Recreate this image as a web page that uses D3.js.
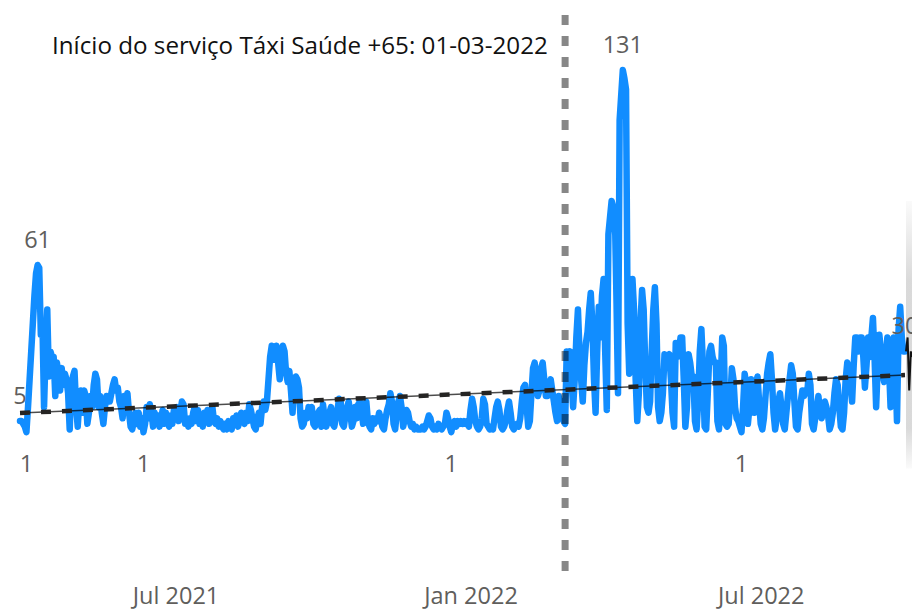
<!DOCTYPE html>
<html>
<head>
<meta charset="utf-8">
<script src="https://d3js.org/d3.v7.min.js"></script>
<title>Táxi Saúde +65</title>
<style>
body {
	margin: 0;
	background: #fff;
}
#root {
	display: block;
}
text {
	font-family: "Segoe UI", "Open Sans", sans-serif;
}
</style>
</head>
<body>
<svg id="root" width="912" height="609"></svg>

<script>
let startDate = '2021-03-26'
let serviceStart = '2022-03-01'
let serviceLabel = 'Início do serviço Táxi Saúde +65: 01-03-2022'

let tickDates = ['2021-07-01', '2022-01-01', '2022-07-01']
let tickLabels = ['Jul 2021', 'Jan 2022', 'Jul 2022']

// daily counts, one row per week
let counts = [
	5, 5, 4, 3, 1, 10, 20,
	30, 40, 50, 58, 61, 60, 36,
	40, 10, 30, 45, 21, 30, 28,
	28, 14, 26, 22, 16, 24, 18,
	22, 20, 15, 2, 18, 21, 23,
	10, 3, 12, 16, 8, 16, 14,
	4, 8, 14, 10, 18, 22, 20,
	10, 14, 8, 4, 10, 14, 12,
	12, 15, 18, 20, 16, 17, 12,
	10, 6, 14, 10, 15, 8, 3,
	2, 5, 8, 4, 8, 3, 6,
	1, 4, 10, 6, 11, 8, 3,
	8, 4, 7, 3, 6, 9, 4,
	8, 5, 3, 7, 4, 9, 6,
	10, 5, 8, 12, 11, 4, 6,
	3, 6, 4, 8, 10, 5, 9,
	4, 6, 3, 8, 5, 9, 4,
	8, 10, 5, 4, 6, 3, 5,
	3, 2, 4, 2, 5, 3, 2,
	6, 4, 7, 3, 5, 8, 6,
	4, 8, 5, 11, 9, 6, 3,
	2, 6, 8, 4, 10, 12, 9,
	12, 20, 28, 32, 30, 27, 32,
	26, 20, 28, 32, 30, 22, 19,
	23, 16, 8, 18, 21, 20, 17,
	6, 3, 4, 8, 6, 10, 8,
	10, 4, 3, 5, 8, 9, 3,
	11, 6, 3, 5, 8, 10, 4,
	3, 6, 9, 13, 12, 4, 3,
	7, 10, 12, 8, 3, 5, 10,
	6, 11, 12, 9, 4, 10, 12,
	5, 3, 2, 6, 4, 6, 5,
	8, 6, 3, 2, 6, 9, 11,
	15, 12, 4, 2, 8, 12, 14,
	10, 3, 6, 9, 8, 5, 3,
	4, 2, 3, 2, 2, 2, 3,
	2, 3, 5, 7, 6, 3, 2,
	3, 2, 4, 3, 2, 3, 4,
	8, 6, 3, 1, 4, 5, 3,
	5, 4, 5, 4, 5, 4, 5,
	3, 9, 13, 10, 5, 3, 2,
	3, 6, 13, 11, 4, 3, 2,
	3, 2, 6, 10, 12, 9, 3,
	2, 3, 5, 9, 12, 8, 3,
	2, 3, 4, 3, 6, 12, 17,
	18, 10, 3, 5, 15, 24, 26,
	20, 14, 16, 24, 26, 20, 14,
	14, 18, 20, 16, 12, 8, 5,
	14, 8, 12, 5, 4, 30, 28,
	30, 20, 10, 20, 35, 45, 30,
	20, 12, 25, 33, 37, 45, 51,
	40, 20, 8, 30, 46, 35, 50,
	56, 30, 9, 72, 78, 84, 82,
	81, 50, 15, 113, 122, 131, 128,
	124, 40, 22, 38, 56, 45, 20,
	5, 15, 40, 52, 45, 25, 10,
	8, 12, 30, 45, 53, 40, 10,
	5, 8, 15, 29, 25, 28, 29,
	20, 8, 3, 33, 28, 30, 35,
	35, 20, 3, 10, 29, 26, 21,
	21, 5, 2, 12, 30, 38, 25,
	3, 2, 15, 30, 32, 28, 26,
	26, 5, 2, 18, 35, 32, 4,
	3, 4, 12, 24, 20, 10, 6,
	5, 3, 1, 10, 22, 18, 4,
	10, 20, 14, 8, 18, 21, 12,
	4, 2, 6, 14, 22, 26, 29,
	20, 8, 2, 6, 12, 15, 10,
	4, 2, 8, 14, 20, 25, 22,
	12, 3, 2, 8, 12, 16, 14,
	16, 15, 22, 18, 4, 2, 6,
	10, 14, 8, 6, 9, 12, 10,
	7, 2, 4, 8, 15, 20, 18,
	10, 3, 2, 8, 20, 26, 24,
	18, 12, 25, 35, 35, 30, 35,
	35, 28, 17, 25, 35, 28, 35,
	42, 28, 10, 25, 36, 30, 22,
	19, 28, 35, 25, 10, 22, 35,
	25, 5, 38, 46, 35, 30, 30
]

// trend line value at first and last day
let trendValues = [7.9, 21.5]

// forecast just past the last day (only its start is visible)
let forecastValues = [35, 16, 30, 28]
let forecastUpper = [84, 84, 84, 84, 84, 84]
let forecastLower = [-12, -12, -12, -12, -12, -12]


let parse = d3.timeParse('%Y-%m-%d')
let start = parse(startDate)

let data = counts.map((v, i) => ({ date: d3.timeDay.offset(start, i), value: v }))
let last = data[data.length - 1]

let svg = d3.select('#root')

let x = d3.scaleTime()
	.domain([data[0].date, last.date])
	.range([20, 905])

let y = d3.scaleLinear()
	.domain([0, d3.max(counts)])
	.range([435, 70])

// x axis, labels only
let axis = d3.axisBottom(x)
	.tickValues(tickDates.map(parse))
	.tickFormat((d, i) => tickLabels[i])
	.tickSize(0)
	.tickPadding(0)

let gAxis = svg.append('g')
	.attr('transform', 'translate(0, 587)')
	.call(axis)

gAxis.select('.domain').remove()
gAxis.selectAll('text')
	.attr('dy', '0.71em')
	.style('font-family', '"Segoe UI", "Open Sans", sans-serif')
	.style('font-size', '23.5px')
	.attr('fill', '#605E5C')

// forecast band + line at the right edge
let fDates = d3.range(forecastUpper.length).map(i => d3.timeDay.offset(last.date, i))
let grad = svg.append('defs').append('linearGradient')
	.attr('id', 'band').attr('x1', 0).attr('x2', 0).attr('y1', 0).attr('y2', 1)
grad.append('stop').attr('offset', '0%').attr('stop-color', '#d0d0d0').attr('stop-opacity', 0.1)
grad.append('stop').attr('offset', '30%').attr('stop-color', '#d0d0d0').attr('stop-opacity', 0.8)
grad.append('stop').attr('offset', '85%').attr('stop-color', '#d0d0d0').attr('stop-opacity', 0.8)
grad.append('stop').attr('offset', '100%').attr('stop-color', '#d0d0d0').attr('stop-opacity', 0.1)

svg.append('path')
	.datum(fDates)
	.attr('fill', 'url(#band)')
	.attr('d', d3.area()
		.x(d => x(d) + 1)
		.y0((d, i) => y(forecastLower[i]))
		.y1((d, i) => y(forecastUpper[i])))

// main series
svg.append('path')
	.datum(data)
	.attr('fill', 'none')
	.attr('stroke', '#118DFF')
	.attr('stroke-width', 6.5)
	.attr('stroke-linejoin', 'round')
	.attr('stroke-linecap', 'round')
	.attr('d', d3.line().x(d => x(d.date)).y(d => y(d.value)))

let forecast = [last.value].concat(forecastValues)
svg.append('path')
	.datum(forecast)
	.attr('fill', 'none')
	.attr('stroke', '#111')
	.attr('stroke-width', 2)
	.attr('d', d3.line().x((d, i) => x(d3.timeDay.offset(last.date, i)) + 1).y(d => y(d)))

// trend line: thin solid + thick dashes
let trend = [
	{ date: data[0].date, value: trendValues[0] },
	{ date: last.date, value: trendValues[1] }
]
let trendLine = d3.line().x(d => x(d.date)).y(d => y(d.value))

svg.append('path')
	.datum(trend)
	.attr('stroke', '#000')
	.attr('stroke-opacity', 0.7)
	.attr('stroke-width', 1.5)
	.attr('d', trendLine)

svg.append('path')
	.datum(trend)
	.attr('stroke', '#252423')
	.attr('stroke-width', 4.5)
	.attr('stroke-dasharray', '10 11')
	.attr('d', trendLine)

// service start marker
let sx = x(parse(serviceStart))
svg.append('line')
	.attr('x1', sx).attr('x2', sx)
	.attr('y1', 15).attr('y2', 573)
	.attr('stroke', '#000')
	.attr('stroke-opacity', 0.47)
	.attr('stroke-width', 7)
	.attr('stroke-dasharray', '10 11')

svg.append('text')
	.attr('x', 52)
	.attr('y', 54)
	.attr('fill', '#111')
	.style('font-size', '24.2px')
	.text(serviceLabel)

// data labels: first, last, min points, max before / after service start
let minValue = d3.min(counts)
let before = data.filter(d => d.date < parse(serviceStart))
let after = data.filter(d => d.date >= parse(serviceStart))

let above = [
	data[0],
	before[d3.maxIndex(before, d => d.value)],
	after[d3.maxIndex(after, d => d.value)],
	last
]
let below = data.filter(d => d.value == minValue)

svg.selectAll('.above').data(above).enter()
	.append('text')
	.attr('class', 'above')
	.attr('x', d => x(d.date))
	.attr('y', d => y(d.value) - 17)
	.attr('text-anchor', 'middle')
	.attr('fill', '#605E5C')
	.style('font-size', '23.5px')
	.text(d => d.value)

svg.selectAll('.below').data(below).enter()
	.append('text')
	.attr('class', 'below')
	.attr('x', d => x(d.date))
	.attr('y', d => y(d.value) + 40)
	.attr('text-anchor', 'middle')
	.attr('fill', '#605E5C')
	.style('font-size', '23.5px')
	.text(d => d.value)
</script>
</body>
</html>
